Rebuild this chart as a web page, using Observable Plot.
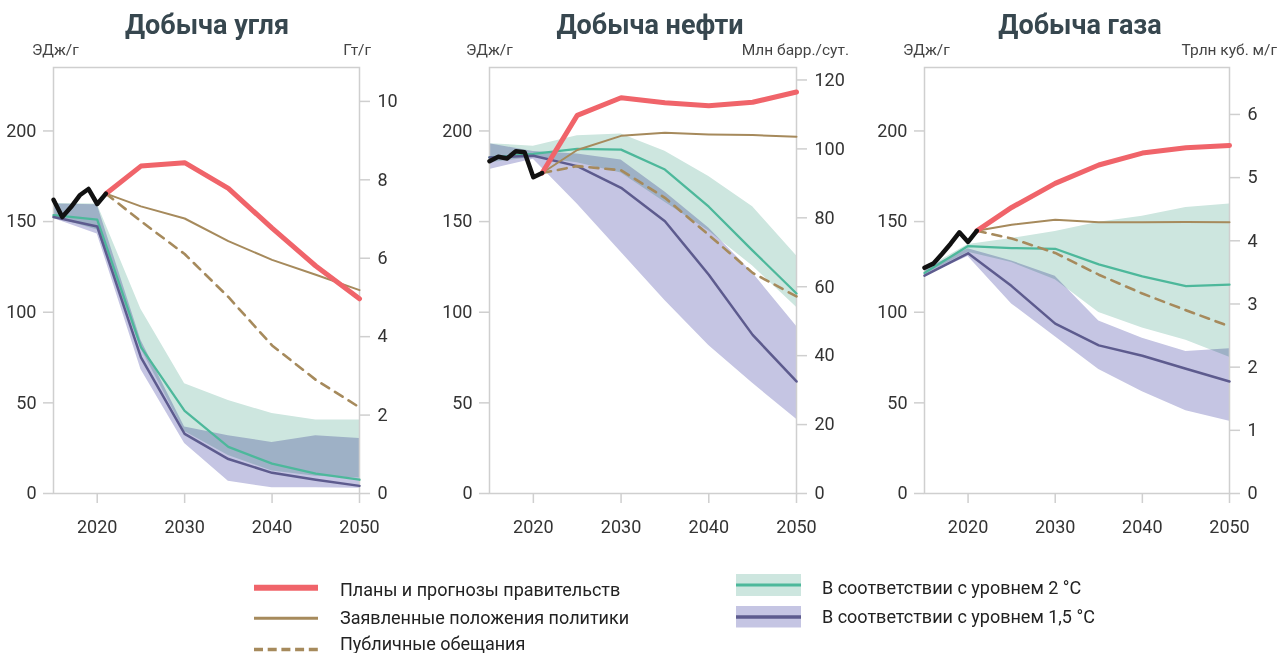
<!DOCTYPE html>
<html>
<head>
<meta charset="utf-8">
<script src="https://cdn.jsdelivr.net/npm/d3@7"></script>
<script src="https://cdn.jsdelivr.net/npm/@observablehq/plot@0.6"></script>
<style>
  html, body { margin: 0; padding: 0; background: #fff; }
  body { width: 1288px; height: 653px; overflow: hidden; position: relative; font-family: Roboto, "Noto Sans", sans-serif; }
  .abs { position: absolute; white-space: nowrap; }
  .title { font-size: 27px; font-weight: 700; color: #37474f; line-height: 1; transform: translateX(-50%); }
  .unit { font-size: 15.5px; color: #444; line-height: 1; }
  .unit.r { transform: translateX(-100%); }
  .leg { font-size: 18px; color: #222; line-height: 1; }
  .panel { position: absolute; top: 57px; }
</style>
</head>
<body>
<script>
// ---------- data (EJ/yr) ----------
const histYears = [2015, 2016, 2017, 2018, 2019, 2020, 2021];
const projYears = [2021, 2025, 2030, 2035, 2040, 2045, 2050];
const pathYears = [2015, 2020, 2025, 2030, 2035, 2040, 2045, 2050];

// Coal
const coalHist     = [162, 152.5, 158, 164.5, 168, 159.7, 165.4];
const coalGov      = [165.4, 180.6, 182.5, 168.3, 146.4, 125.5, 107.4];
const coalSteps    = [165.4, 158.4, 151.7, 139.2, 128.9, 120.7, 112.2];
const coalPledges  = [165.4, 150.2, 132.1, 108.4, 81.7, 62.7, 47.5];
const coal2C       = [153.6, 151.1, 80.8, 45.6, 25.7, 16.5, 11, 7.6];
const coal2CHigh   = [160, 159.7, 101.7, 60.5, 51.3, 44.1, 40.5, 40.5];
const coal2CLow    = [152.5, 145.4, 79.8, 34.2, 20.9, 12.4, 9.5, 8.6];
const coal15       = [152.5, 147.3, 75.1, 32.9, 19, 11.4, 7.6, 4.2];
const coal15High   = [159.7, 159.3, 84.6, 36.7, 31.9, 28.1, 31.9, 30.4];
const coal15Low    = [151.7, 143.2, 68.4, 27.6, 6.7, 3.2, 3.2, 2.9];

// Oil
const oilHist      = [183.3, 185.8, 184.8, 188.8, 188.2, 174.5, 176.8];
const oilGov       = [176.8, 208.6, 218.3, 215.6, 213.9, 215.8, 221.5];
const oilSteps     = [176.8, 189.5, 197.3, 199, 198.1, 197.7, 196.8];
const oilPledges   = [176.8, 180.6, 178.3, 163.1, 142.6, 121.7, 108.7];
const oil2C        = [185.4, 187.3, 190.1, 189.7, 178.7, 158.2, 134, 110.3];
const oil2CHigh    = [193, 191.6, 197.3, 198.3, 188.8, 174.9, 158.2, 131.2];
const oil2CLow     = [182.5, 185.4, 182.5, 176.8, 160.6, 144.8, 125.5, 102.7];
const oil15        = [185.4, 186.3, 180.6, 168.6, 150.2, 120.7, 87.5, 61.8];
const oil15High    = [193, 188.6, 187.3, 184, 166.3, 146.4, 121.7, 92.2];
const oil15Low     = [178.7, 184.4, 159.7, 133.1, 106.5, 81.7, 60.8, 40.9];

// Gas
const gasHist      = [124.5, 126.8, 132.1, 137.8, 144.1, 138.8, 144.9];
const gasGov       = [144.9, 157.8, 171.1, 181.2, 187.8, 190.7, 192];
const gasSteps     = [144.9, 148.3, 151, 149.6, 149.6, 149.8, 149.6];
const gasPledges   = [144.9, 140.7, 132.7, 120.7, 110.3, 101.1, 92.2];
const gas2C        = [121.7, 136.5, 135.4, 135, 126.4, 119.8, 114.4, 115.2];
const gas2CHigh    = [123.6, 137.3, 140.7, 144.5, 149.6, 153, 157.8, 159.7];
const gas2CLow     = [120.7, 133.1, 127.4, 117.9, 99.8, 91.3, 84.6, 75.1];
const gas15        = [120.2, 132.5, 114.4, 93.7, 81.7, 76, 68.8, 61.8];
const gas15High    = [123.6, 135, 128.3, 119.8, 95.1, 85.6, 78.3, 79.8];
const gas15Low     = [119.8, 130.8, 104.6, 86.5, 68.4, 56.1, 45.6, 39.9];

// Axes
const leftTicks = [0, 50, 100, 150, 200];
const xTicks = [2020, 2030, 2040, 2050];
const coalRightTicks = [0, 2, 4, 6, 8, 10];      // Гт/г
const oilRightTicks  = [0, 20, 40, 60, 80, 100, 120]; // Млн барр./сут.
const gasRightTicks  = [0, 1, 2, 3, 4, 5, 6];    // Трлн куб. м/г
const coalPerGt = 21.63;   // EJ per Gt
const oilPerMbd = 1.901;   // EJ per Mb/d
const gasPerTcm = 34.85;   // EJ per tcm

const titles = ["Добыча угля", "Добыча нефти", "Добыча газа"];
const leftUnit = "ЭДж/г";
const rightUnits = ["Гт/г", "Млн барр./сут.", "Трлн куб. м/г"];
const legendLabels = ["Планы и прогнозы правительств", "Заявленные положения политики", "Публичные обещания",
                      "В соответствии с уровнем 2 °C", "В соответствии с уровнем 1,5 °C"];

// Colors
const cRed = "#f0646a", cBrown = "#a68a5c", cTeal = "#4db89b", cPurple = "#5d5b8e";
const cTealBand = "#cde6df", cPurpleBand = "#c5c5e3";

// ---------- drawing ----------
const zip = (xs, ys) => xs.map((x, i) => ({year: x, v: ys[i]}));
const band = (xs, lo, hi) => xs.map((x, i) => ({year: x, lo: lo[i], hi: hi[i]}));

const panels = [
  {left: 0, width: 430, ml: 53, mr: 71, hist: coalHist, gov: coalGov, steps: coalSteps, pledges: coalPledges,
   c2: coal2C, c2lo: coal2CLow, c2hi: coal2CHigh, c15: coal15, c15lo: coal15Low, c15hi: coal15High,
   rt: coalRightTicks, k: coalPerGt, titleX: 207, unitL: 32, unitR: 371},
  {left: 430, width: 430, ml: 59, mr: 64, hist: oilHist, gov: oilGov, steps: oilSteps, pledges: oilPledges,
   c2: oil2C, c2lo: oil2CLow, c2hi: oil2CHigh, c15: oil15, c15lo: oil15Low, c15hi: oil15High,
   rt: oilRightTicks, k: oilPerMbd, titleX: 650, unitL: 466, unitR: 849},
  {left: 860, width: 428, ml: 64, mr: 59, hist: gasHist, gov: gasGov, steps: gasSteps, pledges: gasPledges,
   c2: gas2C, c2lo: gas2CLow, c2hi: gas2CHigh, c15: gas15, c15lo: gas15Low, c15hi: gas15High,
   rt: gasRightTicks, k: gasPerTcm, titleX: 1080, unitL: 903, unitR: 1277}
];

panels.forEach((p, i) => {
  const chart = Plot.plot({
    width: p.width, height: 488,
    marginTop: 10, marginBottom: 52, marginLeft: p.ml, marginRight: p.mr,
    x: {domain: [2015, 2050]},
    y: {domain: [0, 235]},
    style: {fontFamily: "Roboto, sans-serif", fontSize: "18px", color: "#333", background: "transparent", overflow: "visible"},
    marks: [
      Plot.areaY(band(pathYears, p.c2lo, p.c2hi), {x: "year", y1: "lo", y2: "hi", fill: cTealBand, mixBlendMode: "multiply"}),
      Plot.areaY(band(pathYears, p.c15lo, p.c15hi), {x: "year", y1: "lo", y2: "hi", fill: cPurpleBand, mixBlendMode: "multiply"}),
      Plot.frame({stroke: "#cfcfcf", strokeWidth: 1.5}),
      Plot.lineY(zip(pathYears, p.c2), {x: "year", y: "v", stroke: cTeal, strokeWidth: 2.3}),
      Plot.lineY(zip(pathYears, p.c15), {x: "year", y: "v", stroke: cPurple, strokeWidth: 2.5}),
      Plot.lineY(zip(projYears, p.pledges), {x: "year", y: "v", stroke: cBrown, strokeWidth: 2.6, strokeDasharray: "9,7"}),
      Plot.lineY(zip(projYears, p.steps), {x: "year", y: "v", stroke: cBrown, strokeWidth: 2}),
      Plot.lineY(zip(projYears, p.gov), {x: "year", y: "v", stroke: cRed, strokeWidth: 5}),
      Plot.lineY(zip(histYears, p.hist), {x: "year", y: "v", stroke: "#111", strokeWidth: 4.5}),
      Plot.axisX(xTicks, {tickSize: 10, tickPadding: 17, stroke: "#cfcfcf", strokeWidth: 1.5, fill: "#333", label: null, tickFormat: d => String(d)}),
      Plot.axisY(leftTicks, {tickSize: 10, tickPadding: 7, stroke: "#cfcfcf", strokeWidth: 1.5, fill: "#333", label: null, tickFormat: d => String(d)}),
      Plot.axisY(p.rt, {anchor: "right", y: d => d * p.k, tickSize: 10, tickPadding: 8, stroke: "#cfcfcf", strokeWidth: 1.5, fill: "#333", label: null, tickFormat: d => String(d)})
    ]
  });
  const wrap = document.createElement("div");
  wrap.className = "panel";
  wrap.style.left = p.left + "px";
  wrap.appendChild(chart);
  document.body.appendChild(wrap);

  const t = document.createElement("div");
  t.className = "abs title"; t.textContent = titles[i];
  t.style.left = p.titleX + "px"; t.style.top = "12px";
  document.body.appendChild(t);

  const ul = document.createElement("div");
  ul.className = "abs unit"; ul.textContent = leftUnit;
  ul.style.left = p.unitL + "px"; ul.style.top = "43px";
  document.body.appendChild(ul);

  const ur = document.createElement("div");
  ur.className = "abs unit r"; ur.textContent = rightUnits[i];
  ur.style.left = p.unitR + "px"; ur.style.top = "43px";
  document.body.appendChild(ur);
});

// ---------- legend ----------
const ns = "http://www.w3.org/2000/svg";
const lg = document.createElementNS(ns, "svg");
lg.setAttribute("width", 1288); lg.setAttribute("height", 653);
lg.style.position = "absolute"; lg.style.left = "0"; lg.style.top = "0"; lg.style.pointerEvents = "none";
function el(tag, attrs) { const e = document.createElementNS(ns, tag); for (const k in attrs) e.setAttribute(k, attrs[k]); lg.appendChild(e); return e; }
el("line", {x1: 254, x2: 318, y1: 587.7, y2: 587.7, stroke: cRed, "stroke-width": 6});
el("line", {x1: 254, x2: 318, y1: 618.3, y2: 618.3, stroke: cBrown, "stroke-width": 3});
el("line", {x1: 254, x2: 318, y1: 649.5, y2: 649.5, stroke: cBrown, "stroke-width": 3.5, "stroke-dasharray": "9,4.7"});
el("rect", {x: 736, y: 574, width: 65, height: 22, fill: cTealBand});
el("line", {x1: 736, x2: 801, y1: 585, y2: 585, stroke: cTeal, "stroke-width": 3});
el("rect", {x: 736, y: 606, width: 65, height: 21.5, fill: cPurpleBand});
el("line", {x1: 736, x2: 801, y1: 617, y2: 617, stroke: cPurple, "stroke-width": 3.5});
document.body.appendChild(lg);

const legPos = [[340, 580.5], [340, 609.3], [340, 634.5], [822, 579], [822, 608]];
legendLabels.forEach((s, i) => {
  const d = document.createElement("div");
  d.className = "abs leg"; d.textContent = s;
  d.style.left = legPos[i][0] + "px"; d.style.top = legPos[i][1] + "px";
  document.body.appendChild(d);
});
</script>
</body>
</html>
